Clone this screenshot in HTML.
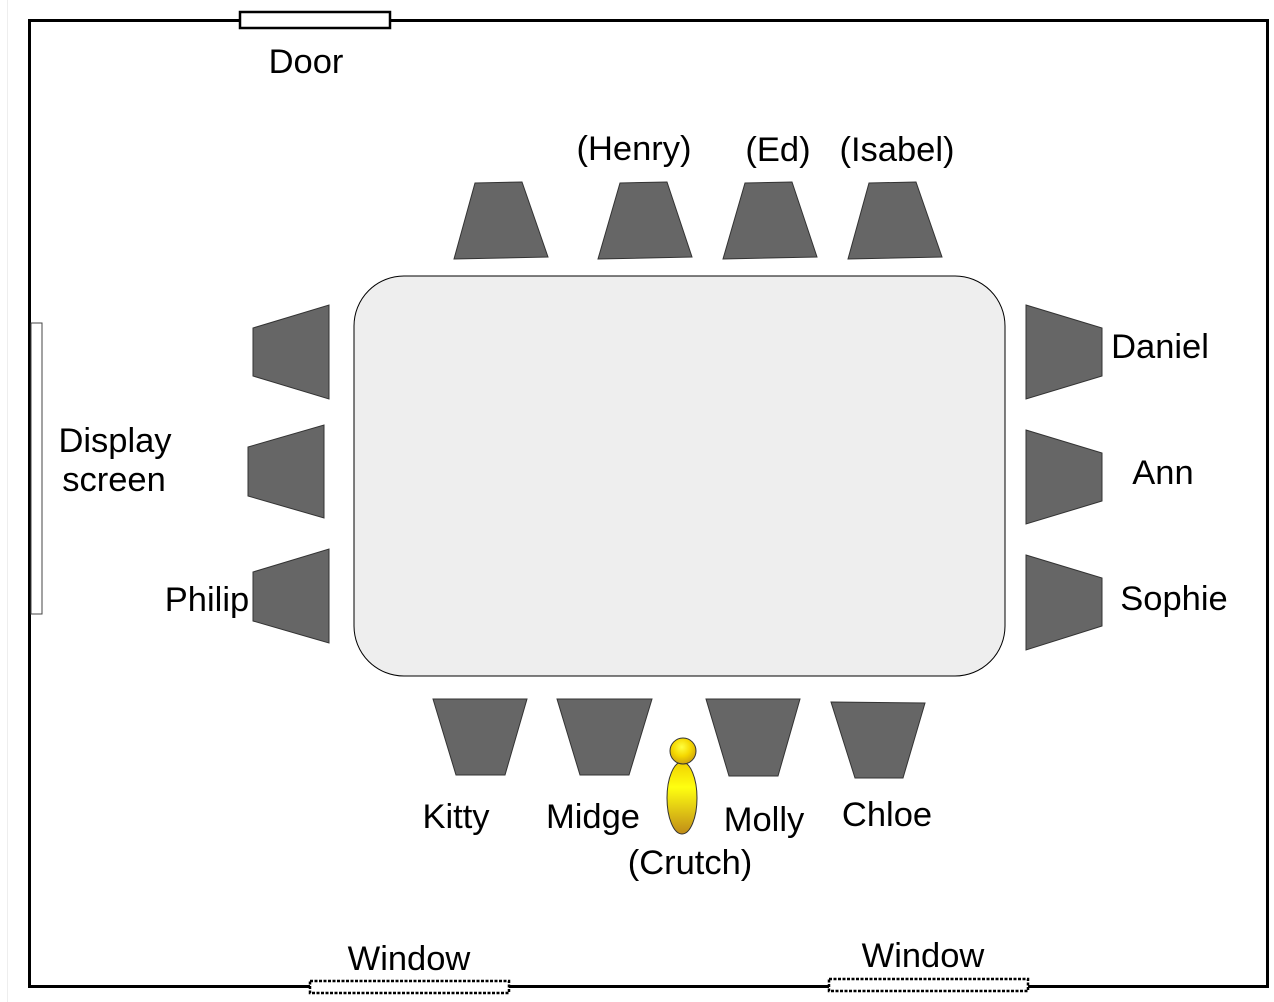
<!DOCTYPE html>
<html><head><style>html,body{margin:0;padding:0;background:#fff}svg{display:block}</style></head>
<body>
<svg width="1274" height="1002" viewBox="0 0 1274 1002" xmlns="http://www.w3.org/2000/svg">
<defs>
<radialGradient id="yh" cx="0.45" cy="0.35" r="0.7"><stop offset="0" stop-color="#ffff40"/><stop offset="0.5" stop-color="#f5d800"/><stop offset="1" stop-color="#c89a10"/></radialGradient>
<linearGradient id="yb" x1="0" y1="0" x2="0" y2="1"><stop offset="0" stop-color="#f0d000"/><stop offset="0.35" stop-color="#ffff10"/><stop offset="1" stop-color="#c08c18"/></linearGradient>
</defs>
<line x1="7.5" y1="0" x2="7.5" y2="1002" stroke="#eee" stroke-width="1"/>
<rect x="29.5" y="20.5" width="1238" height="966" fill="none" stroke="#000" stroke-width="3"/>
<rect x="240" y="12" width="150" height="16" fill="#fff" stroke="#000" stroke-width="2.5"/>
<rect x="31" y="323" width="11" height="291" fill="#fff" stroke="#444" stroke-width="1"/>
<rect x="310" y="981" width="199" height="12" fill="#fff" stroke="#000" stroke-width="2.5" stroke-dasharray="3,1.5"/>
<rect x="829" y="979" width="199" height="12" fill="#fff" stroke="#000" stroke-width="2.5" stroke-dasharray="3,1.5"/>
<rect x="354" y="276" width="651" height="400" rx="50" ry="50" fill="#eeeeee" stroke="#000" stroke-width="1"/>
<g fill="#666" stroke="#333" stroke-width="1">
<polygon points="475,183 522,182 548,257 454,259"/>
<polygon points="620,183 667,182 692,257 598,259"/>
<polygon points="745,183 792,182 817,257 723,259"/>
<polygon points="869,183 916,182 942,257 848,259"/>
<polygon points="433,699 527,699 505,775 456,775"/>
<polygon points="557,699 652,699 629,775 580,775"/>
<polygon points="706,699 800,699 778,776 729,776"/>
<polygon points="831,702 925,703 903,778 855,778"/>
<polygon points="329,305 329,399 253,376 253,328"/>
<polygon points="324,425 324,518 248,496 248,447"/>
<polygon points="329,549 329,643 253,621 253,572"/>
<polygon points="1026,305 1102,328 1102,376 1026,399"/>
<polygon points="1026,430 1102,453 1102,501 1026,524"/>
<polygon points="1026,555 1102,578 1102,626 1026,650"/>
</g>
<ellipse cx="682" cy="798" rx="15" ry="36" fill="url(#yb)" stroke="#333" stroke-width="1"/>
<circle cx="683" cy="751" r="13" fill="url(#yh)" stroke="#333" stroke-width="1"/>
<g font-family="Liberation Sans, sans-serif" font-size="34.5" fill="#000">
<text x="306" y="73" text-anchor="middle">Door</text>
<text x="634" y="160" text-anchor="middle">(Henry)</text>
<text x="778" y="161" text-anchor="middle">(Ed)</text>
<text x="897" y="161" text-anchor="middle">(Isabel)</text>
<text x="1160" y="358" text-anchor="middle">Daniel</text>
<text x="1163" y="484" text-anchor="middle">Ann</text>
<text x="1174" y="610" text-anchor="middle">Sophie</text>
<text x="115" y="452" text-anchor="middle">Display</text>
<text x="114" y="491" text-anchor="middle">screen</text>
<text x="207" y="611" text-anchor="middle">Philip</text>
<text x="456" y="828" text-anchor="middle">Kitty</text>
<text x="593" y="828" text-anchor="middle">Midge</text>
<text x="764" y="831" text-anchor="middle">Molly</text>
<text x="887" y="826" text-anchor="middle">Chloe</text>
<text x="690" y="874" text-anchor="middle">(Crutch)</text>
<text x="409" y="970" text-anchor="middle">Window</text>
<text x="923" y="967" text-anchor="middle">Window</text>
</g>
</svg>
</body></html>
